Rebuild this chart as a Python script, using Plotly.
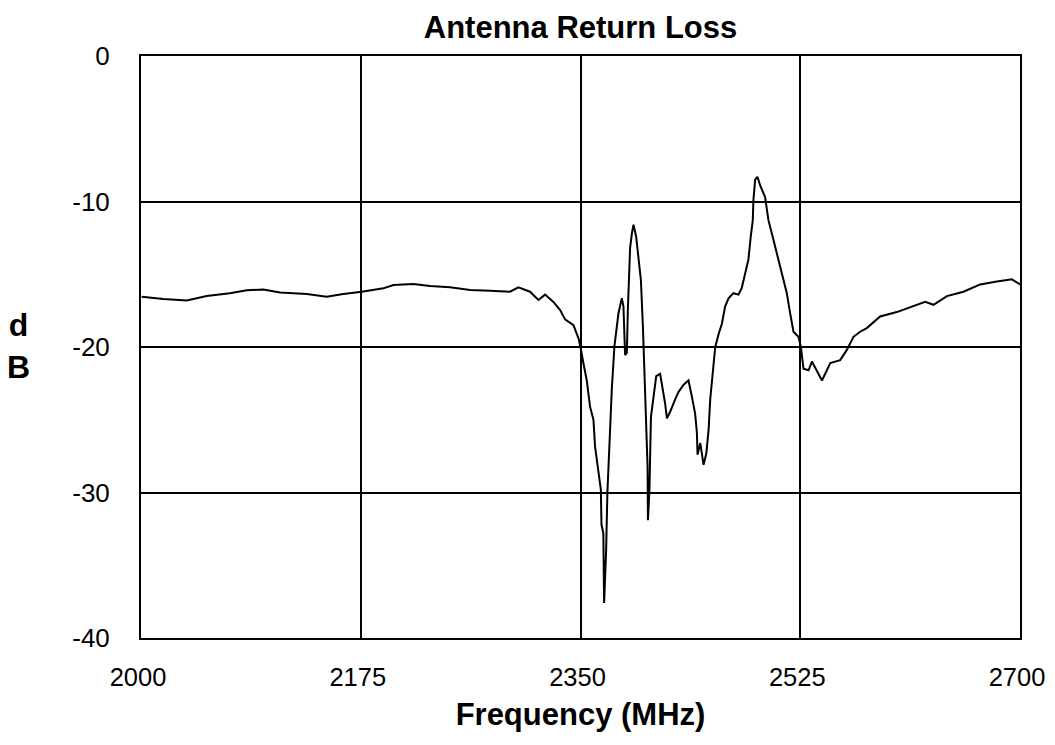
import plotly.graph_objects as go

freq_mhz = [
    2000.5, 2017.8, 2036.4, 2052.3, 2070.8, 2084.2, 2097.4, 2110.7, 2132.0, 2147.9,
    2161.1, 2175.8, 2193.0, 2201.0, 2216.9, 2230.2, 2246.1, 2262.1, 2278.0, 2293.9,
    2300.5, 2309.8, 2316.5, 2321.8, 2328.4, 2333.8, 2337.7, 2344.4, 2348.4, 2350.0,
    2352.3, 2355.0, 2357.6, 2360.3, 2361.6, 2364.3, 2366.2, 2366.7, 2368.2, 2368.8,
    2370.4, 2371.4, 2373.0, 2374.9, 2377.0, 2380.2, 2382.9, 2384.2, 2385.5, 2386.9,
    2387.7, 2388.2, 2389.5, 2390.9, 2392.2, 2394.3, 2396.2, 2398.1, 2399.7, 2401.5,
    2403.4, 2403.7, 2404.9, 2406.1, 2408.1, 2410.3, 2413.4, 2414.8, 2417.4, 2418.8,
    2421.4, 2425.4, 2428.0, 2432.0, 2436.0, 2438.7, 2441.3, 2442.7, 2443.2, 2445.4,
    2448.0, 2450.2, 2452.0, 2453.3, 2455.5, 2457.3, 2460.0, 2462.6, 2465.2, 2467.9,
    2471.8, 2475.8, 2478.4, 2481.1, 2483.7, 2485.6, 2487.2, 2487.7, 2489.1, 2490.9,
    2493.1, 2497.0, 2499.7, 2503.7, 2507.7, 2511.7, 2514.3, 2517.0, 2519.6, 2523.6,
    2525.5, 2527.6, 2531.6, 2534.3, 2538.3, 2542.3, 2546.2, 2548.9, 2556.8, 2562.1,
    2567.4, 2572.7, 2578.0, 2583.3, 2588.6, 2601.9, 2615.2, 2624.5, 2631.1, 2641.8,
    2655.0, 2668.3, 2681.6, 2693.5, 2700.0,
]
return_loss_db = [
    -16.54, -16.7, -16.8, -16.5, -16.3, -16.1, -16.05, -16.25, -16.35, -16.54,
    -16.35, -16.2, -15.97, -15.74, -15.67, -15.8, -15.9, -16.08, -16.13, -16.2,
    -15.9, -16.2, -16.77, -16.4, -16.9, -17.46, -18.1, -18.5, -19.4, -20.0,
    -21.1, -22.3, -24.1, -25.0, -26.85, -28.7, -29.8, -32.2, -32.8, -37.6,
    -34.0, -30.05, -26.2, -22.95, -19.98, -17.7, -16.65, -17.2, -20.55, -20.4,
    -17.45, -15.85, -13.2, -12.2, -11.6, -12.4, -13.8, -15.4, -18.6, -22.7,
    -28.2, -31.9, -29.8, -24.8, -23.6, -22.0, -21.85, -22.5, -23.9, -24.9,
    -24.45, -23.6, -23.1, -22.6, -22.3, -23.4, -24.6, -25.9, -27.4, -26.6,
    -28.1, -27.3, -25.7, -23.6, -21.8, -20.0, -19.1, -18.4, -17.2, -16.65,
    -16.3, -16.4, -15.95, -14.9, -14.0, -12.4, -11.3, -9.9, -8.5, -8.3,
    -8.9, -9.7, -11.3, -12.65, -14.0, -15.4, -16.3, -17.7, -18.95, -19.3,
    -20.0, -21.5, -21.6, -21.0, -21.6, -22.3, -21.6, -21.1, -20.9, -20.2,
    -19.3, -18.95, -18.7, -18.3, -17.9, -17.6, -17.2, -16.9, -17.1, -16.5,
    -16.2, -15.7, -15.5, -15.35, -15.7,
]
x_ticks = [2000, 2175, 2350, 2525, 2700]
y_ticks = [0, -10, -20, -30, -40]

font_family = "Liberation Sans, Arial, sans-serif"

W, H = 1047, 729
L, R, T, B = 133, 35, 48, 99
PW, PH = W - L - R, H - T - B

fig = go.Figure()
fig.add_trace(go.Scatter(
    x=freq_mhz, y=return_loss_db, mode="lines",
    line=dict(color="black", width=2), showlegend=False,
))

fig.update_layout(
    width=W, height=H,
    paper_bgcolor="white", plot_bgcolor="white",
    margin=dict(l=L, r=R, t=T, b=B),
    title=dict(text="<b>Antenna Return Loss</b>", x=(L + PW / 2) / W, xanchor="center",
               y=1 - 19 / H, yanchor="middle",
               font=dict(family=font_family, size=31, color="black")),
    font=dict(family=font_family, color="black"),
)
fig.update_xaxes(
    range=[2000, 2700], tickvals=x_ticks, ticktext=[str(v) for v in x_ticks],
    automargin=False, ticklabeloverflow="allow", ticklabelshift=-3,
    showgrid=True, gridcolor="black", gridwidth=2,
    showline=True, linecolor="black", linewidth=2, mirror=True,
    ticks="", ticklabelstandoff=15,
    tickfont=dict(size=25.5, family=font_family, color="black"),
    zeroline=False,
    title=dict(text="<b>Frequency (MHz)</b>", standoff=14,
               font=dict(size=31, family=font_family, color="black")),
)
fig.update_yaxes(
    range=[-40, 0], tickvals=y_ticks, ticktext=[str(v) for v in y_ticks],
    automargin=False,
    showgrid=True, gridcolor="black", gridwidth=2,
    showline=True, linecolor="black", linewidth=2, mirror=True,
    ticks="", ticklabelstandoff=24,
    tickfont=dict(size=26, family=font_family, color="black"),
    zeroline=False,
)
fig.add_annotation(
    text="<b>d</b><br><b>B</b>", xref="paper", yref="paper",
    x=-(L - 10) / PW, y=(PH - (346 - T - 8)) / PH, xanchor="center", yanchor="middle",
    showarrow=False,
    font=dict(size=32, family=font_family, color="black"), align="center",
)

fig.write_html("out.html")
